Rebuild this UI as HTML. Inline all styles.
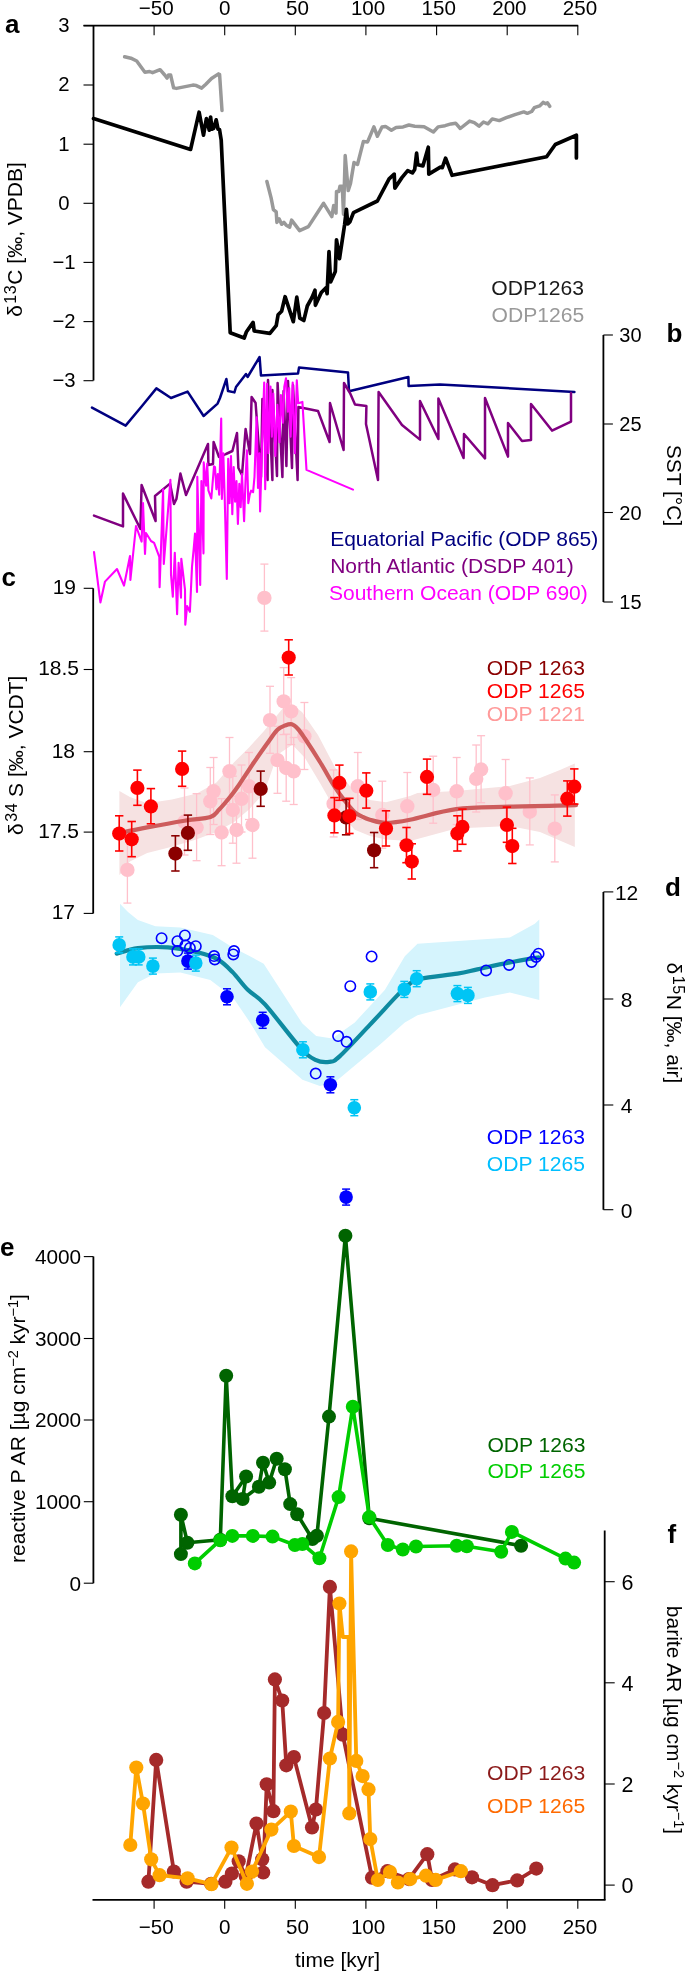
<!DOCTYPE html>
<html><head><meta charset="utf-8"><title>Figure</title>
<style>html,body{margin:0;padding:0;background:#fff;width:685px;height:1972px;overflow:hidden}svg{display:block;will-change:transform}text{font-family:"Liberation Sans",sans-serif}</style>
</head><body>
<svg width="685" height="1972" viewBox="0 0 685 1972" font-family='"Liberation Sans", sans-serif'>
<line x1="83.5" y1="25.6" x2="578.2" y2="25.6" stroke="#000" stroke-width="1.8" stroke-linecap="butt"/>
<line x1="154.1" y1="25.6" x2="154.1" y2="35.2" stroke="#000" stroke-width="1.1" stroke-linecap="butt"/>
<text x="156.3" y="14.8" font-size="20.6" text-anchor="middle" fill="#000" font-weight="normal" >−50</text>
<line x1="224.7" y1="25.6" x2="224.7" y2="35.2" stroke="#000" stroke-width="1.1" stroke-linecap="butt"/>
<text x="224.7" y="14.8" font-size="20.6" text-anchor="middle" fill="#000" font-weight="normal" >0</text>
<line x1="295.3" y1="25.6" x2="295.3" y2="35.2" stroke="#000" stroke-width="1.1" stroke-linecap="butt"/>
<text x="297.5" y="14.8" font-size="20.6" text-anchor="middle" fill="#000" font-weight="normal" >50</text>
<line x1="365.9" y1="25.6" x2="365.9" y2="35.2" stroke="#000" stroke-width="1.1" stroke-linecap="butt"/>
<text x="368.1" y="14.8" font-size="20.6" text-anchor="middle" fill="#000" font-weight="normal" >100</text>
<line x1="436.6" y1="25.6" x2="436.6" y2="35.2" stroke="#000" stroke-width="1.1" stroke-linecap="butt"/>
<text x="438.8" y="14.8" font-size="20.6" text-anchor="middle" fill="#000" font-weight="normal" >150</text>
<line x1="507.2" y1="25.6" x2="507.2" y2="35.2" stroke="#000" stroke-width="1.1" stroke-linecap="butt"/>
<text x="509.4" y="14.8" font-size="20.6" text-anchor="middle" fill="#000" font-weight="normal" >200</text>
<line x1="577.8" y1="25.6" x2="577.8" y2="35.2" stroke="#000" stroke-width="1.1" stroke-linecap="butt"/>
<text x="580" y="14.8" font-size="20.6" text-anchor="middle" fill="#000" font-weight="normal" >250</text>
<line x1="93.5" y1="25.6" x2="93.5" y2="380.5" stroke="#000" stroke-width="1.8" stroke-linecap="butt"/>
<line x1="83.5" y1="25.6" x2="93.5" y2="25.6" stroke="#000" stroke-width="1.1" stroke-linecap="butt"/>
<text x="69.6" y="31.9" font-size="20.3" text-anchor="end" fill="#000" font-weight="normal" >3</text>
<line x1="83.5" y1="85" x2="93.5" y2="85" stroke="#000" stroke-width="1.1" stroke-linecap="butt"/>
<text x="69.6" y="91.3" font-size="20.3" text-anchor="end" fill="#000" font-weight="normal" >2</text>
<line x1="83.5" y1="144.2" x2="93.5" y2="144.2" stroke="#000" stroke-width="1.1" stroke-linecap="butt"/>
<text x="69.6" y="150.5" font-size="20.3" text-anchor="end" fill="#000" font-weight="normal" >1</text>
<line x1="83.5" y1="203.3" x2="93.5" y2="203.3" stroke="#000" stroke-width="1.1" stroke-linecap="butt"/>
<text x="69.6" y="209.6" font-size="20.3" text-anchor="end" fill="#000" font-weight="normal" >0</text>
<line x1="83.5" y1="262.4" x2="93.5" y2="262.4" stroke="#000" stroke-width="1.1" stroke-linecap="butt"/>
<text x="75.6" y="268.7" font-size="20.3" text-anchor="end" fill="#000" font-weight="normal" >−1</text>
<line x1="83.5" y1="321.6" x2="93.5" y2="321.6" stroke="#000" stroke-width="1.1" stroke-linecap="butt"/>
<text x="75.6" y="327.9" font-size="20.3" text-anchor="end" fill="#000" font-weight="normal" >−2</text>
<line x1="83.5" y1="380.7" x2="93.5" y2="380.7" stroke="#000" stroke-width="1.1" stroke-linecap="butt"/>
<text x="75.6" y="387" font-size="20.3" text-anchor="end" fill="#000" font-weight="normal" >−3</text>
<text x="5" y="32.6" font-size="26" text-anchor="start" fill="#000" font-weight="bold" >a</text>
<text transform="translate(22.4,239.5) rotate(-90)" font-size="21" text-anchor="middle">δ<tspan font-size="16" dx="1.5" dy="-6" letter-spacing="0.6">13</tspan><tspan dy="6" letter-spacing="0">C [‰, VPDB]</tspan></text>
<text x="491.3" y="295.4" font-size="21.1" text-anchor="start" fill="#1a1a1a" font-weight="normal" >ODP1263</text>
<text x="491.5" y="321.7" font-size="21.1" text-anchor="start" fill="#999999" font-weight="normal" >ODP1265</text>
<polyline points="124.6,56.8 130.9,58.2 136.7,61 144.9,72.2 149.6,71.5 152.6,72.7 160.1,69.7 164.7,75 167.1,78.1 168.5,75 170.6,75 173.6,87.9 176.4,88.4 192.8,85.1 196.3,85.6 201.7,88.1 205.6,84.4 211.5,78.5 218.5,73.9 219.6,74.6 222,110.5" fill="none" stroke="#999999" stroke-width="3.5" stroke-linejoin="round" stroke-linecap="round" />
<polyline points="266.9,181.5 271.1,197.9 273.4,209.6 276.2,211.9 276.9,222.4 279.2,218.9 281.6,224.3 283.9,222.4 286.2,225.2 289.7,227.1 291.6,220.1 299.6,230.6 308.4,226.6 323.6,203.3 331.8,216.6 333.7,205.6 336,213.1 336.5,191.6 338.8,191.6 340,186.2 342.3,186.2 343.5,214.2 345.2,155.6 348.2,190.6 350.5,183.4 354,162.6 357.5,164.5 363.4,141.4 367.6,141.9 373.9,126.9 377.4,136.3 382,126.9 385.5,126.4 391.4,130.2 396.1,127.4 403.1,126.9 408.9,125 414.7,126.2 424.1,126.7 433.4,132 438.1,126.9 445.1,125.7 451,123.9 455.6,123.2 460.3,128.5 469.6,121.1 474.3,122.7 479,126.2 483.5,122 487.9,123.8 492.3,118.9 499.3,120.6 506.3,117.7 515,114.7 523.8,111.9 527.3,113.3 531.7,111.5 534.3,107.7 539.6,105.9 543.1,102.4 545.7,103.7 547.4,102.8 549.7,106.3" fill="none" stroke="#999999" stroke-width="3.5" stroke-linejoin="round" stroke-linecap="round" />
<polyline points="93.5,118.6 190.6,149.4 199.1,112.2 203.5,135.1 206.4,118.5 209.3,130.2 210.6,117 212,129.2 213.7,128.3 216.2,119.8 218,129.2 219.5,129.5 221.2,140 230.2,332.7 244.2,338 246.5,331.7 253.1,322.4 254.2,331 269.9,333.4 276.2,325.7 278.1,314.7 281.6,311.2 285.1,296.7 293.3,321.7 296.8,297.2 299.8,318.2 303.8,320.5 307.3,306 311.9,297.6 315,290.2 315.4,305.3 321.3,292.5 326,287.8 327.1,293.7 329,251.6 330.6,282 335.3,271.5 336.5,239.9 339.5,258.6 344.6,224.7 346.4,209.3 347.8,224 349.8,222 353.5,212.6 377.4,201 389.1,178.8 394.2,174.1 394.9,188.1 401.9,177.6 407.7,170.6 412.4,172.9 414.7,169.4 416.6,153.1 417.8,164.7 422.9,165.9 428.3,147.2 428.8,174.1 440.4,167.1 442.3,167.6 445.6,158.2 452.1,175.3 546.6,156.7 555.3,144.5 576.4,135.2 576.4,158" fill="none" stroke="#000000" stroke-width="3.7" stroke-linejoin="round" stroke-linecap="round" />
<line x1="603.4" y1="335" x2="603.4" y2="602" stroke="#000" stroke-width="1.8" stroke-linecap="butt"/>
<line x1="603.4" y1="335" x2="612.9" y2="335" stroke="#000" stroke-width="1.1" stroke-linecap="butt"/>
<text x="619.3" y="342" font-size="20" text-anchor="start" fill="#000" font-weight="normal" >30</text>
<line x1="603.4" y1="424" x2="612.9" y2="424" stroke="#000" stroke-width="1.1" stroke-linecap="butt"/>
<text x="619.3" y="431" font-size="20" text-anchor="start" fill="#000" font-weight="normal" >25</text>
<line x1="603.4" y1="512.5" x2="612.9" y2="512.5" stroke="#000" stroke-width="1.1" stroke-linecap="butt"/>
<text x="619.3" y="519.5" font-size="20" text-anchor="start" fill="#000" font-weight="normal" >20</text>
<line x1="603.4" y1="602" x2="612.9" y2="602" stroke="#000" stroke-width="1.1" stroke-linecap="butt"/>
<text x="619.3" y="609" font-size="20" text-anchor="start" fill="#000" font-weight="normal" >15</text>
<text x="666.5" y="342" font-size="26" text-anchor="start" fill="#000" font-weight="bold" >b</text>
<text transform="translate(666.6,485.5) rotate(90)" font-size="21" text-anchor="middle">SST [°C]</text>
<polyline points="92,407.6 125.6,425.6 142,406 156.4,388.4 171,398 187.6,391.6 203.6,416 217.6,403.6 220,398 226.4,379 228,391 234.4,392.4 236,387 246,374 247.6,377 259.6,357 261,375.6 298,373.6 299,367.6 348,372.4 349,391 350,391 408.4,377 408.6,386 440,384.6 487,387 574.4,392" fill="none" stroke="#000080" stroke-width="2.5" stroke-linejoin="round" stroke-linecap="round" />
<polyline points="94,515.6 123,526.4 123,493.6 140.4,529 141.6,485 155.6,521 155,496 170,483.6 174,504 176.4,499 180.4,473.6 186,495 208,444 208.4,465 213,464 213.6,442 219,457 220,457 226,454 232.4,451 237,433 238.4,468 242,475 245.6,429 250,454 251.6,397 255.6,403 261,477 262.4,399 267.6,480 268,380 272.4,480 272.4,390 277,476 277.6,383 282.4,477 283.6,391 286.4,466 288,381 292,468 293,385 297.6,480 298.4,407 318,411 329.6,442 330,403 343.6,450 344,383 350,393 355,404.4 366.4,406 366,424 378,480 378.6,392 402,425 420,439.6 420,401 438.4,439 438.4,398.6 463.6,458 464,434 485,458.4 485,398 508,456.6 508,423 522,441 531,440 531,404 552,430.6 571,421.6 571,393" fill="none" stroke="#800080" stroke-width="2.5" stroke-linejoin="round" stroke-linecap="round" />
<polyline points="94,552 100.4,602.4 105,581.6 117,569 124,585.6 130,556 130.4,580 136,526 141.6,541.6 143,503 145,554 146,533 151,541 154.1,542.9 159.3,556.9 159.6,587.3 163.1,489.2 163.8,563.9 170.4,479.9 171,574.5 172.8,596.6 174.8,552.8 177.1,614.2 178.6,562.8 181,597.8 181.3,558.7 185,589.6 185.3,624.7 187.1,606 189.9,611.8 192,566.9 193.8,547.6 195,533.6 197,592 197.3,476.9 200.2,585 201.4,481 203.5,553.4 203.7,462.3 206.1,485.7 207.2,463.5 208.4,490.4 211.3,498.5 214,466.4 215,467.1 216.4,489.3 217.8,474 219.2,494.8 221.2,418.5 221.9,499 223.3,453.2 224.7,497.6 226.8,579 228.2,458.8 229.6,503.1 231,456 232.3,514.2 233.7,467.1 235.1,501.8 236.5,481 237.9,524 239.3,483.7 240.7,507.3 242,474 244.1,521.2 245.5,481 246.9,450.4 248.3,503.1 249.7,494.8 251.1,490.7 253.1,492.1 254.5,476.8 256.6,417.2 258,487.9 259.4,453.2 260.1,511.5 262.2,439.3 264.2,382.5 265.2,489.3 267,383.9 268.4,453.2 270.5,386.6 271.9,436.6 273.3,393.6 275.3,456 277.4,404.7 279.5,442.1 280.9,395 283,422.7 284.3,386.6 286,378.3 287.8,411.6 289.2,388 290.6,436.6 292.7,382.5 294.8,453.2 296.8,380.4 298.2,403.3 302.4,401.9 306.5,469.9 353,489.6" fill="none" stroke="#ff00ff" stroke-width="2.1" stroke-linejoin="round" stroke-linecap="round" />
<text x="330.2" y="546" font-size="21" text-anchor="start" fill="#000080" font-weight="normal" >Equatorial Pacific (ODP 865)</text>
<text x="330.2" y="573.3" font-size="21" text-anchor="start" fill="#800080" font-weight="normal" >North Atlantic (DSDP 401)</text>
<text x="329" y="600.2" font-size="21" text-anchor="start" fill="#ff00ff" font-weight="normal" >Southern Ocean (ODP 690)</text>
<line x1="93.2" y1="588.3" x2="93.2" y2="913.4" stroke="#000" stroke-width="1.8" stroke-linecap="butt"/>
<line x1="83.7" y1="588.3" x2="93.2" y2="588.3" stroke="#000" stroke-width="1.1" stroke-linecap="butt"/>
<text x="76" y="594.1" font-size="21" text-anchor="end" fill="#000" font-weight="normal" >19</text>
<line x1="83.7" y1="669.5" x2="93.2" y2="669.5" stroke="#000" stroke-width="1.1" stroke-linecap="butt"/>
<text x="79" y="675.3" font-size="21" text-anchor="end" fill="#000" font-weight="normal" >18.5</text>
<line x1="83.7" y1="751.7" x2="93.2" y2="751.7" stroke="#000" stroke-width="1.1" stroke-linecap="butt"/>
<text x="75" y="757.5" font-size="21" text-anchor="end" fill="#000" font-weight="normal" >18</text>
<line x1="83.7" y1="832.1" x2="93.2" y2="832.1" stroke="#000" stroke-width="1.1" stroke-linecap="butt"/>
<text x="79" y="837.9" font-size="21" text-anchor="end" fill="#000" font-weight="normal" >17.5</text>
<line x1="83.7" y1="913.4" x2="93.2" y2="913.4" stroke="#000" stroke-width="1.1" stroke-linecap="butt"/>
<text x="75" y="919.2" font-size="21" text-anchor="end" fill="#000" font-weight="normal" >17</text>
<text x="1.5" y="586" font-size="26" text-anchor="start" fill="#000" font-weight="bold" >c</text>
<text transform="translate(22.6,755.3) rotate(-90)" font-size="21" text-anchor="middle">δ<tspan font-size="16" dx="1.5" dy="-6" letter-spacing="0.6">34</tspan><tspan dy="6" letter-spacing="0"> S [‰, VCDT]</tspan></text>
<polygon points="119.4,790.9 129.9,797.1 147.2,803.3 172,799.6 196.9,793.5 216.7,782.2 234.1,762.3 249,747.4 264,731 283.7,707.3 292.4,704.8 302,712 318,735 334.9,767.2 354.8,792.2 370,800 386,802.2 410,796 417.5,793 456.2,791 509.8,786 540,778 560,770 574.8,763.5 574.8,847.1 540,832 509.8,826 456.2,828.4 410,840.9 386,839.6 370,836 354.8,829.7 332.4,804.7 320,783 305,758 292.4,744.8 277.5,754.8 264,793 249,809.5 234.1,821.9 216.7,831.8 196.9,839.3 172,846.7 147.2,852.9 129.9,861.6 119.4,875.3" fill="#f6e2e2"/>
<line x1="127.4" y1="836.1" x2="127.4" y2="903.1" stroke="#ffc0cb" stroke-width="1.3" stroke-linecap="butt"/>
<line x1="123.4" y1="836.1" x2="131.4" y2="836.1" stroke="#ffc0cb" stroke-width="1.3" stroke-linecap="butt"/>
<line x1="123.4" y1="903.1" x2="131.4" y2="903.1" stroke="#ffc0cb" stroke-width="1.3" stroke-linecap="butt"/>
<line x1="184.5" y1="788" x2="184.5" y2="855" stroke="#ffc0cb" stroke-width="1.3" stroke-linecap="butt"/>
<line x1="180.5" y1="788" x2="188.5" y2="788" stroke="#ffc0cb" stroke-width="1.3" stroke-linecap="butt"/>
<line x1="180.5" y1="855" x2="188.5" y2="855" stroke="#ffc0cb" stroke-width="1.3" stroke-linecap="butt"/>
<line x1="196.6" y1="793.7" x2="196.6" y2="860.7" stroke="#ffc0cb" stroke-width="1.3" stroke-linecap="butt"/>
<line x1="192.6" y1="793.7" x2="200.6" y2="793.7" stroke="#ffc0cb" stroke-width="1.3" stroke-linecap="butt"/>
<line x1="192.6" y1="860.7" x2="200.6" y2="860.7" stroke="#ffc0cb" stroke-width="1.3" stroke-linecap="butt"/>
<line x1="210.3" y1="767.5" x2="210.3" y2="834.5" stroke="#ffc0cb" stroke-width="1.3" stroke-linecap="butt"/>
<line x1="206.3" y1="767.5" x2="214.3" y2="767.5" stroke="#ffc0cb" stroke-width="1.3" stroke-linecap="butt"/>
<line x1="206.3" y1="834.5" x2="214.3" y2="834.5" stroke="#ffc0cb" stroke-width="1.3" stroke-linecap="butt"/>
<line x1="213.6" y1="757.5" x2="213.6" y2="824.5" stroke="#ffc0cb" stroke-width="1.3" stroke-linecap="butt"/>
<line x1="209.6" y1="757.5" x2="217.6" y2="757.5" stroke="#ffc0cb" stroke-width="1.3" stroke-linecap="butt"/>
<line x1="209.6" y1="824.5" x2="217.6" y2="824.5" stroke="#ffc0cb" stroke-width="1.3" stroke-linecap="butt"/>
<line x1="221.6" y1="798.7" x2="221.6" y2="865.7" stroke="#ffc0cb" stroke-width="1.3" stroke-linecap="butt"/>
<line x1="217.6" y1="798.7" x2="225.6" y2="798.7" stroke="#ffc0cb" stroke-width="1.3" stroke-linecap="butt"/>
<line x1="217.6" y1="865.7" x2="225.6" y2="865.7" stroke="#ffc0cb" stroke-width="1.3" stroke-linecap="butt"/>
<line x1="229.5" y1="737.5" x2="229.5" y2="804.5" stroke="#ffc0cb" stroke-width="1.3" stroke-linecap="butt"/>
<line x1="225.5" y1="737.5" x2="233.5" y2="737.5" stroke="#ffc0cb" stroke-width="1.3" stroke-linecap="butt"/>
<line x1="225.5" y1="804.5" x2="233.5" y2="804.5" stroke="#ffc0cb" stroke-width="1.3" stroke-linecap="butt"/>
<line x1="232.8" y1="776.2" x2="232.8" y2="843.2" stroke="#ffc0cb" stroke-width="1.3" stroke-linecap="butt"/>
<line x1="228.8" y1="776.2" x2="236.8" y2="776.2" stroke="#ffc0cb" stroke-width="1.3" stroke-linecap="butt"/>
<line x1="228.8" y1="843.2" x2="236.8" y2="843.2" stroke="#ffc0cb" stroke-width="1.3" stroke-linecap="butt"/>
<line x1="236.5" y1="796.2" x2="236.5" y2="863.2" stroke="#ffc0cb" stroke-width="1.3" stroke-linecap="butt"/>
<line x1="232.5" y1="796.2" x2="240.5" y2="796.2" stroke="#ffc0cb" stroke-width="1.3" stroke-linecap="butt"/>
<line x1="232.5" y1="863.2" x2="240.5" y2="863.2" stroke="#ffc0cb" stroke-width="1.3" stroke-linecap="butt"/>
<line x1="241.5" y1="765" x2="241.5" y2="832" stroke="#ffc0cb" stroke-width="1.3" stroke-linecap="butt"/>
<line x1="237.5" y1="765" x2="245.5" y2="765" stroke="#ffc0cb" stroke-width="1.3" stroke-linecap="butt"/>
<line x1="237.5" y1="832" x2="245.5" y2="832" stroke="#ffc0cb" stroke-width="1.3" stroke-linecap="butt"/>
<line x1="249" y1="752.5" x2="249" y2="819.5" stroke="#ffc0cb" stroke-width="1.3" stroke-linecap="butt"/>
<line x1="245" y1="752.5" x2="253" y2="752.5" stroke="#ffc0cb" stroke-width="1.3" stroke-linecap="butt"/>
<line x1="245" y1="819.5" x2="253" y2="819.5" stroke="#ffc0cb" stroke-width="1.3" stroke-linecap="butt"/>
<line x1="252.5" y1="791.2" x2="252.5" y2="858.2" stroke="#ffc0cb" stroke-width="1.3" stroke-linecap="butt"/>
<line x1="248.5" y1="791.2" x2="256.5" y2="791.2" stroke="#ffc0cb" stroke-width="1.3" stroke-linecap="butt"/>
<line x1="248.5" y1="858.2" x2="256.5" y2="858.2" stroke="#ffc0cb" stroke-width="1.3" stroke-linecap="butt"/>
<line x1="264.4" y1="564.1" x2="264.4" y2="631.1" stroke="#ffc0cb" stroke-width="1.3" stroke-linecap="butt"/>
<line x1="260.4" y1="564.1" x2="268.4" y2="564.1" stroke="#ffc0cb" stroke-width="1.3" stroke-linecap="butt"/>
<line x1="260.4" y1="631.1" x2="268.4" y2="631.1" stroke="#ffc0cb" stroke-width="1.3" stroke-linecap="butt"/>
<line x1="270" y1="686.3" x2="270" y2="753.3" stroke="#ffc0cb" stroke-width="1.3" stroke-linecap="butt"/>
<line x1="266" y1="686.3" x2="274" y2="686.3" stroke="#ffc0cb" stroke-width="1.3" stroke-linecap="butt"/>
<line x1="266" y1="753.3" x2="274" y2="753.3" stroke="#ffc0cb" stroke-width="1.3" stroke-linecap="butt"/>
<line x1="283.7" y1="667.6" x2="283.7" y2="734.6" stroke="#ffc0cb" stroke-width="1.3" stroke-linecap="butt"/>
<line x1="279.7" y1="667.6" x2="287.7" y2="667.6" stroke="#ffc0cb" stroke-width="1.3" stroke-linecap="butt"/>
<line x1="279.7" y1="734.6" x2="287.7" y2="734.6" stroke="#ffc0cb" stroke-width="1.3" stroke-linecap="butt"/>
<line x1="291.2" y1="677.6" x2="291.2" y2="744.6" stroke="#ffc0cb" stroke-width="1.3" stroke-linecap="butt"/>
<line x1="287.2" y1="677.6" x2="295.2" y2="677.6" stroke="#ffc0cb" stroke-width="1.3" stroke-linecap="butt"/>
<line x1="287.2" y1="744.6" x2="295.2" y2="744.6" stroke="#ffc0cb" stroke-width="1.3" stroke-linecap="butt"/>
<line x1="304.4" y1="702.5" x2="304.4" y2="769.5" stroke="#ffc0cb" stroke-width="1.3" stroke-linecap="butt"/>
<line x1="300.4" y1="702.5" x2="308.4" y2="702.5" stroke="#ffc0cb" stroke-width="1.3" stroke-linecap="butt"/>
<line x1="300.4" y1="769.5" x2="308.4" y2="769.5" stroke="#ffc0cb" stroke-width="1.3" stroke-linecap="butt"/>
<line x1="277.5" y1="726.3" x2="277.5" y2="793.3" stroke="#ffc0cb" stroke-width="1.3" stroke-linecap="butt"/>
<line x1="273.5" y1="726.3" x2="281.5" y2="726.3" stroke="#ffc0cb" stroke-width="1.3" stroke-linecap="butt"/>
<line x1="273.5" y1="793.3" x2="281.5" y2="793.3" stroke="#ffc0cb" stroke-width="1.3" stroke-linecap="butt"/>
<line x1="286.2" y1="734.2" x2="286.2" y2="801.2" stroke="#ffc0cb" stroke-width="1.3" stroke-linecap="butt"/>
<line x1="282.2" y1="734.2" x2="290.2" y2="734.2" stroke="#ffc0cb" stroke-width="1.3" stroke-linecap="butt"/>
<line x1="282.2" y1="801.2" x2="290.2" y2="801.2" stroke="#ffc0cb" stroke-width="1.3" stroke-linecap="butt"/>
<line x1="293.7" y1="737.5" x2="293.7" y2="804.5" stroke="#ffc0cb" stroke-width="1.3" stroke-linecap="butt"/>
<line x1="289.7" y1="737.5" x2="297.7" y2="737.5" stroke="#ffc0cb" stroke-width="1.3" stroke-linecap="butt"/>
<line x1="289.7" y1="804.5" x2="297.7" y2="804.5" stroke="#ffc0cb" stroke-width="1.3" stroke-linecap="butt"/>
<line x1="333.6" y1="769.9" x2="333.6" y2="836.9" stroke="#ffc0cb" stroke-width="1.3" stroke-linecap="butt"/>
<line x1="329.6" y1="769.9" x2="337.6" y2="769.9" stroke="#ffc0cb" stroke-width="1.3" stroke-linecap="butt"/>
<line x1="329.6" y1="836.9" x2="337.6" y2="836.9" stroke="#ffc0cb" stroke-width="1.3" stroke-linecap="butt"/>
<line x1="357.8" y1="752.5" x2="357.8" y2="819.5" stroke="#ffc0cb" stroke-width="1.3" stroke-linecap="butt"/>
<line x1="353.8" y1="752.5" x2="361.8" y2="752.5" stroke="#ffc0cb" stroke-width="1.3" stroke-linecap="butt"/>
<line x1="353.8" y1="819.5" x2="361.8" y2="819.5" stroke="#ffc0cb" stroke-width="1.3" stroke-linecap="butt"/>
<line x1="382.3" y1="781.2" x2="382.3" y2="848.2" stroke="#ffc0cb" stroke-width="1.3" stroke-linecap="butt"/>
<line x1="378.3" y1="781.2" x2="386.3" y2="781.2" stroke="#ffc0cb" stroke-width="1.3" stroke-linecap="butt"/>
<line x1="378.3" y1="848.2" x2="386.3" y2="848.2" stroke="#ffc0cb" stroke-width="1.3" stroke-linecap="butt"/>
<line x1="407.3" y1="772.5" x2="407.3" y2="839.5" stroke="#ffc0cb" stroke-width="1.3" stroke-linecap="butt"/>
<line x1="403.3" y1="772.5" x2="411.3" y2="772.5" stroke="#ffc0cb" stroke-width="1.3" stroke-linecap="butt"/>
<line x1="403.3" y1="839.5" x2="411.3" y2="839.5" stroke="#ffc0cb" stroke-width="1.3" stroke-linecap="butt"/>
<line x1="433.2" y1="756.2" x2="433.2" y2="823.2" stroke="#ffc0cb" stroke-width="1.3" stroke-linecap="butt"/>
<line x1="429.2" y1="756.2" x2="437.2" y2="756.2" stroke="#ffc0cb" stroke-width="1.3" stroke-linecap="butt"/>
<line x1="429.2" y1="823.2" x2="437.2" y2="823.2" stroke="#ffc0cb" stroke-width="1.3" stroke-linecap="butt"/>
<line x1="456.7" y1="757.5" x2="456.7" y2="824.5" stroke="#ffc0cb" stroke-width="1.3" stroke-linecap="butt"/>
<line x1="452.7" y1="757.5" x2="460.7" y2="757.5" stroke="#ffc0cb" stroke-width="1.3" stroke-linecap="butt"/>
<line x1="452.7" y1="824.5" x2="460.7" y2="824.5" stroke="#ffc0cb" stroke-width="1.3" stroke-linecap="butt"/>
<line x1="476.2" y1="745" x2="476.2" y2="812" stroke="#ffc0cb" stroke-width="1.3" stroke-linecap="butt"/>
<line x1="472.2" y1="745" x2="480.2" y2="745" stroke="#ffc0cb" stroke-width="1.3" stroke-linecap="butt"/>
<line x1="472.2" y1="812" x2="480.2" y2="812" stroke="#ffc0cb" stroke-width="1.3" stroke-linecap="butt"/>
<line x1="481.1" y1="735.7" x2="481.1" y2="802.7" stroke="#ffc0cb" stroke-width="1.3" stroke-linecap="butt"/>
<line x1="477.1" y1="735.7" x2="485.1" y2="735.7" stroke="#ffc0cb" stroke-width="1.3" stroke-linecap="butt"/>
<line x1="477.1" y1="802.7" x2="485.1" y2="802.7" stroke="#ffc0cb" stroke-width="1.3" stroke-linecap="butt"/>
<line x1="505.6" y1="759.5" x2="505.6" y2="826.5" stroke="#ffc0cb" stroke-width="1.3" stroke-linecap="butt"/>
<line x1="501.6" y1="759.5" x2="509.6" y2="759.5" stroke="#ffc0cb" stroke-width="1.3" stroke-linecap="butt"/>
<line x1="501.6" y1="826.5" x2="509.6" y2="826.5" stroke="#ffc0cb" stroke-width="1.3" stroke-linecap="butt"/>
<line x1="529.8" y1="777.9" x2="529.8" y2="844.9" stroke="#ffc0cb" stroke-width="1.3" stroke-linecap="butt"/>
<line x1="525.8" y1="777.9" x2="533.8" y2="777.9" stroke="#ffc0cb" stroke-width="1.3" stroke-linecap="butt"/>
<line x1="525.8" y1="844.9" x2="533.8" y2="844.9" stroke="#ffc0cb" stroke-width="1.3" stroke-linecap="butt"/>
<line x1="554.8" y1="794.9" x2="554.8" y2="861.9" stroke="#ffc0cb" stroke-width="1.3" stroke-linecap="butt"/>
<line x1="550.8" y1="794.9" x2="558.8" y2="794.9" stroke="#ffc0cb" stroke-width="1.3" stroke-linecap="butt"/>
<line x1="550.8" y1="861.9" x2="558.8" y2="861.9" stroke="#ffc0cb" stroke-width="1.3" stroke-linecap="butt"/>
<circle cx="127.4" cy="869.9" r="7.2" fill="#ffc0cb" stroke="none" stroke-width="0"/>
<circle cx="184.5" cy="821.8" r="7.2" fill="#ffc0cb" stroke="none" stroke-width="0"/>
<circle cx="196.6" cy="827.5" r="7.2" fill="#ffc0cb" stroke="none" stroke-width="0"/>
<circle cx="210.3" cy="801.3" r="7.2" fill="#ffc0cb" stroke="none" stroke-width="0"/>
<circle cx="213.6" cy="791.3" r="7.2" fill="#ffc0cb" stroke="none" stroke-width="0"/>
<circle cx="221.6" cy="832.5" r="7.2" fill="#ffc0cb" stroke="none" stroke-width="0"/>
<circle cx="229.5" cy="771.3" r="7.2" fill="#ffc0cb" stroke="none" stroke-width="0"/>
<circle cx="232.8" cy="810" r="7.2" fill="#ffc0cb" stroke="none" stroke-width="0"/>
<circle cx="236.5" cy="830" r="7.2" fill="#ffc0cb" stroke="none" stroke-width="0"/>
<circle cx="241.5" cy="798.8" r="7.2" fill="#ffc0cb" stroke="none" stroke-width="0"/>
<circle cx="249" cy="786.3" r="7.2" fill="#ffc0cb" stroke="none" stroke-width="0"/>
<circle cx="252.5" cy="825" r="7.2" fill="#ffc0cb" stroke="none" stroke-width="0"/>
<circle cx="264.4" cy="597.9" r="7.2" fill="#ffc0cb" stroke="none" stroke-width="0"/>
<circle cx="270" cy="720.1" r="7.2" fill="#ffc0cb" stroke="none" stroke-width="0"/>
<circle cx="283.7" cy="701.4" r="7.2" fill="#ffc0cb" stroke="none" stroke-width="0"/>
<circle cx="291.2" cy="711.4" r="7.2" fill="#ffc0cb" stroke="none" stroke-width="0"/>
<circle cx="304.4" cy="736.3" r="7.2" fill="#ffc0cb" stroke="none" stroke-width="0"/>
<circle cx="277.5" cy="760.1" r="7.2" fill="#ffc0cb" stroke="none" stroke-width="0"/>
<circle cx="286.2" cy="768" r="7.2" fill="#ffc0cb" stroke="none" stroke-width="0"/>
<circle cx="293.7" cy="771.3" r="7.2" fill="#ffc0cb" stroke="none" stroke-width="0"/>
<circle cx="333.6" cy="803.7" r="7.2" fill="#ffc0cb" stroke="none" stroke-width="0"/>
<circle cx="357.8" cy="786.3" r="7.2" fill="#ffc0cb" stroke="none" stroke-width="0"/>
<circle cx="382.3" cy="815" r="7.2" fill="#ffc0cb" stroke="none" stroke-width="0"/>
<circle cx="407.3" cy="806.3" r="7.2" fill="#ffc0cb" stroke="none" stroke-width="0"/>
<circle cx="433.2" cy="790" r="7.2" fill="#ffc0cb" stroke="none" stroke-width="0"/>
<circle cx="456.7" cy="791.3" r="7.2" fill="#ffc0cb" stroke="none" stroke-width="0"/>
<circle cx="476.2" cy="778.8" r="7.2" fill="#ffc0cb" stroke="none" stroke-width="0"/>
<circle cx="481.1" cy="769.5" r="7.2" fill="#ffc0cb" stroke="none" stroke-width="0"/>
<circle cx="505.6" cy="793.3" r="7.2" fill="#ffc0cb" stroke="none" stroke-width="0"/>
<circle cx="529.8" cy="811.7" r="7.2" fill="#ffc0cb" stroke="none" stroke-width="0"/>
<circle cx="554.8" cy="828.7" r="7.2" fill="#ffc0cb" stroke="none" stroke-width="0"/>
<path d="M119.2,833.2 C123.9,832.2 136.3,829.5 147.2,827.4 C158.1,825.3 173.9,822.4 184.5,820.7 C195.1,819 204.7,818.9 210.5,817 C216.3,815.1 215.9,812.8 219.2,809.5 C222.4,806.2 226.7,801.1 230,797 C233.3,792.9 235.1,790.5 239.1,784.7 C243.1,778.9 249.1,769.5 254,762.3 C258.9,755 264.9,746.6 268.8,741.2 C272.7,735.8 274.8,732.4 277.5,729.8 C280.2,727.2 282.6,726.4 285,725.5 C287.4,724.6 289.7,723.7 291.9,724.3 C294.1,724.9 295.8,726.6 298,729 C300.2,731.4 301.2,733 304.9,738.5 C308.6,744 315,753.9 320,762 C325,770.1 330.7,780.7 334.9,787.2 C339.1,793.7 341.7,796.8 345,801 C348.3,805.2 352,809.6 354.8,812.2 C357.6,814.8 359.5,815.2 362,816.5 C364.5,817.8 365.8,818.6 369.8,819.7 C373.8,820.8 379.3,822.9 386,822.9 C392.7,822.9 398.3,822 410,819.7 C421.7,817.4 439.6,811.4 456.2,809.2 C472.8,807 489.8,807.4 509.8,806.7 C529.8,806 565,805.5 576,805.2" fill="none" stroke="#cd5c5c" stroke-width="4.2" stroke-linecap="round" stroke-linejoin="round"/>
<line x1="175.4" y1="835.8" x2="175.4" y2="871" stroke="#8b0000" stroke-width="1.6" stroke-linecap="butt"/>
<line x1="171.2" y1="835.8" x2="179.6" y2="835.8" stroke="#8b0000" stroke-width="1.6" stroke-linecap="butt"/>
<line x1="171.2" y1="871" x2="179.6" y2="871" stroke="#8b0000" stroke-width="1.6" stroke-linecap="butt"/>
<circle cx="175.4" cy="853.6" r="7.1" fill="#8b0000" stroke="none" stroke-width="0"/>
<line x1="187.9" y1="815.1" x2="187.9" y2="850.3" stroke="#8b0000" stroke-width="1.6" stroke-linecap="butt"/>
<line x1="183.7" y1="815.1" x2="192.1" y2="815.1" stroke="#8b0000" stroke-width="1.6" stroke-linecap="butt"/>
<line x1="183.7" y1="850.3" x2="192.1" y2="850.3" stroke="#8b0000" stroke-width="1.6" stroke-linecap="butt"/>
<circle cx="187.9" cy="832.9" r="7.1" fill="#8b0000" stroke="none" stroke-width="0"/>
<line x1="260.7" y1="771.1" x2="260.7" y2="806.3" stroke="#8b0000" stroke-width="1.6" stroke-linecap="butt"/>
<line x1="256.5" y1="771.1" x2="264.9" y2="771.1" stroke="#8b0000" stroke-width="1.6" stroke-linecap="butt"/>
<line x1="256.5" y1="806.3" x2="264.9" y2="806.3" stroke="#8b0000" stroke-width="1.6" stroke-linecap="butt"/>
<circle cx="260.7" cy="788.9" r="7.1" fill="#8b0000" stroke="none" stroke-width="0"/>
<line x1="346.1" y1="799.6" x2="346.1" y2="834.8" stroke="#8b0000" stroke-width="1.6" stroke-linecap="butt"/>
<line x1="341.9" y1="799.6" x2="350.3" y2="799.6" stroke="#8b0000" stroke-width="1.6" stroke-linecap="butt"/>
<line x1="341.9" y1="834.8" x2="350.3" y2="834.8" stroke="#8b0000" stroke-width="1.6" stroke-linecap="butt"/>
<circle cx="346.1" cy="817.4" r="7.1" fill="#8b0000" stroke="none" stroke-width="0"/>
<line x1="374.1" y1="832.5" x2="374.1" y2="867.7" stroke="#8b0000" stroke-width="1.6" stroke-linecap="butt"/>
<line x1="369.9" y1="832.5" x2="378.3" y2="832.5" stroke="#8b0000" stroke-width="1.6" stroke-linecap="butt"/>
<line x1="369.9" y1="867.7" x2="378.3" y2="867.7" stroke="#8b0000" stroke-width="1.6" stroke-linecap="butt"/>
<circle cx="374.1" cy="850.3" r="7.1" fill="#8b0000" stroke="none" stroke-width="0"/>
<line x1="119.2" y1="815.8" x2="119.2" y2="851" stroke="#ff0000" stroke-width="1.6" stroke-linecap="butt"/>
<line x1="115" y1="815.8" x2="123.4" y2="815.8" stroke="#ff0000" stroke-width="1.6" stroke-linecap="butt"/>
<line x1="115" y1="851" x2="123.4" y2="851" stroke="#ff0000" stroke-width="1.6" stroke-linecap="butt"/>
<circle cx="119.2" cy="833.6" r="7.1" fill="#ff0000" stroke="none" stroke-width="0"/>
<line x1="131.7" y1="821.5" x2="131.7" y2="856.7" stroke="#ff0000" stroke-width="1.6" stroke-linecap="butt"/>
<line x1="127.5" y1="821.5" x2="135.9" y2="821.5" stroke="#ff0000" stroke-width="1.6" stroke-linecap="butt"/>
<line x1="127.5" y1="856.7" x2="135.9" y2="856.7" stroke="#ff0000" stroke-width="1.6" stroke-linecap="butt"/>
<circle cx="131.7" cy="839.3" r="7.1" fill="#ff0000" stroke="none" stroke-width="0"/>
<line x1="137.4" y1="770.1" x2="137.4" y2="805.3" stroke="#ff0000" stroke-width="1.6" stroke-linecap="butt"/>
<line x1="133.2" y1="770.1" x2="141.6" y2="770.1" stroke="#ff0000" stroke-width="1.6" stroke-linecap="butt"/>
<line x1="133.2" y1="805.3" x2="141.6" y2="805.3" stroke="#ff0000" stroke-width="1.6" stroke-linecap="butt"/>
<circle cx="137.4" cy="787.9" r="7.1" fill="#ff0000" stroke="none" stroke-width="0"/>
<line x1="150.9" y1="788.6" x2="150.9" y2="823.8" stroke="#ff0000" stroke-width="1.6" stroke-linecap="butt"/>
<line x1="146.7" y1="788.6" x2="155.1" y2="788.6" stroke="#ff0000" stroke-width="1.6" stroke-linecap="butt"/>
<line x1="146.7" y1="823.8" x2="155.1" y2="823.8" stroke="#ff0000" stroke-width="1.6" stroke-linecap="butt"/>
<circle cx="150.9" cy="806.4" r="7.1" fill="#ff0000" stroke="none" stroke-width="0"/>
<line x1="182.1" y1="751.1" x2="182.1" y2="786.3" stroke="#ff0000" stroke-width="1.6" stroke-linecap="butt"/>
<line x1="177.9" y1="751.1" x2="186.3" y2="751.1" stroke="#ff0000" stroke-width="1.6" stroke-linecap="butt"/>
<line x1="177.9" y1="786.3" x2="186.3" y2="786.3" stroke="#ff0000" stroke-width="1.6" stroke-linecap="butt"/>
<circle cx="182.1" cy="768.9" r="7.1" fill="#ff0000" stroke="none" stroke-width="0"/>
<line x1="288.7" y1="639.8" x2="288.7" y2="675" stroke="#ff0000" stroke-width="1.6" stroke-linecap="butt"/>
<line x1="284.5" y1="639.8" x2="292.9" y2="639.8" stroke="#ff0000" stroke-width="1.6" stroke-linecap="butt"/>
<line x1="284.5" y1="675" x2="292.9" y2="675" stroke="#ff0000" stroke-width="1.6" stroke-linecap="butt"/>
<circle cx="288.7" cy="657.6" r="7.1" fill="#ff0000" stroke="none" stroke-width="0"/>
<line x1="339.4" y1="765.1" x2="339.4" y2="800.3" stroke="#ff0000" stroke-width="1.6" stroke-linecap="butt"/>
<line x1="335.2" y1="765.1" x2="343.6" y2="765.1" stroke="#ff0000" stroke-width="1.6" stroke-linecap="butt"/>
<line x1="335.2" y1="800.3" x2="343.6" y2="800.3" stroke="#ff0000" stroke-width="1.6" stroke-linecap="butt"/>
<circle cx="339.4" cy="782.9" r="7.1" fill="#ff0000" stroke="none" stroke-width="0"/>
<line x1="334.4" y1="797.6" x2="334.4" y2="832.8" stroke="#ff0000" stroke-width="1.6" stroke-linecap="butt"/>
<line x1="330.2" y1="797.6" x2="338.6" y2="797.6" stroke="#ff0000" stroke-width="1.6" stroke-linecap="butt"/>
<line x1="330.2" y1="832.8" x2="338.6" y2="832.8" stroke="#ff0000" stroke-width="1.6" stroke-linecap="butt"/>
<circle cx="334.4" cy="815.4" r="7.1" fill="#ff0000" stroke="none" stroke-width="0"/>
<line x1="349.4" y1="798.3" x2="349.4" y2="833.5" stroke="#ff0000" stroke-width="1.6" stroke-linecap="butt"/>
<line x1="345.2" y1="798.3" x2="353.6" y2="798.3" stroke="#ff0000" stroke-width="1.6" stroke-linecap="butt"/>
<line x1="345.2" y1="833.5" x2="353.6" y2="833.5" stroke="#ff0000" stroke-width="1.6" stroke-linecap="butt"/>
<circle cx="349.4" cy="816.1" r="7.1" fill="#ff0000" stroke="none" stroke-width="0"/>
<line x1="366.3" y1="772.9" x2="366.3" y2="808.1" stroke="#ff0000" stroke-width="1.6" stroke-linecap="butt"/>
<line x1="362.1" y1="772.9" x2="370.5" y2="772.9" stroke="#ff0000" stroke-width="1.6" stroke-linecap="butt"/>
<line x1="362.1" y1="808.1" x2="370.5" y2="808.1" stroke="#ff0000" stroke-width="1.6" stroke-linecap="butt"/>
<circle cx="366.3" cy="790.7" r="7.1" fill="#ff0000" stroke="none" stroke-width="0"/>
<line x1="386" y1="810.8" x2="386" y2="846" stroke="#ff0000" stroke-width="1.6" stroke-linecap="butt"/>
<line x1="381.8" y1="810.8" x2="390.2" y2="810.8" stroke="#ff0000" stroke-width="1.6" stroke-linecap="butt"/>
<line x1="381.8" y1="846" x2="390.2" y2="846" stroke="#ff0000" stroke-width="1.6" stroke-linecap="butt"/>
<circle cx="386" cy="828.6" r="7.1" fill="#ff0000" stroke="none" stroke-width="0"/>
<line x1="406.5" y1="827.5" x2="406.5" y2="862.7" stroke="#ff0000" stroke-width="1.6" stroke-linecap="butt"/>
<line x1="402.3" y1="827.5" x2="410.7" y2="827.5" stroke="#ff0000" stroke-width="1.6" stroke-linecap="butt"/>
<line x1="402.3" y1="862.7" x2="410.7" y2="862.7" stroke="#ff0000" stroke-width="1.6" stroke-linecap="butt"/>
<circle cx="406.5" cy="845.3" r="7.1" fill="#ff0000" stroke="none" stroke-width="0"/>
<line x1="411.8" y1="843.8" x2="411.8" y2="879" stroke="#ff0000" stroke-width="1.6" stroke-linecap="butt"/>
<line x1="407.6" y1="843.8" x2="416" y2="843.8" stroke="#ff0000" stroke-width="1.6" stroke-linecap="butt"/>
<line x1="407.6" y1="879" x2="416" y2="879" stroke="#ff0000" stroke-width="1.6" stroke-linecap="butt"/>
<circle cx="411.8" cy="861.6" r="7.1" fill="#ff0000" stroke="none" stroke-width="0"/>
<line x1="427" y1="759.1" x2="427" y2="794.3" stroke="#ff0000" stroke-width="1.6" stroke-linecap="butt"/>
<line x1="422.8" y1="759.1" x2="431.2" y2="759.1" stroke="#ff0000" stroke-width="1.6" stroke-linecap="butt"/>
<line x1="422.8" y1="794.3" x2="431.2" y2="794.3" stroke="#ff0000" stroke-width="1.6" stroke-linecap="butt"/>
<circle cx="427" cy="776.9" r="7.1" fill="#ff0000" stroke="none" stroke-width="0"/>
<line x1="457.4" y1="815.8" x2="457.4" y2="851" stroke="#ff0000" stroke-width="1.6" stroke-linecap="butt"/>
<line x1="453.2" y1="815.8" x2="461.6" y2="815.8" stroke="#ff0000" stroke-width="1.6" stroke-linecap="butt"/>
<line x1="453.2" y1="851" x2="461.6" y2="851" stroke="#ff0000" stroke-width="1.6" stroke-linecap="butt"/>
<circle cx="457.4" cy="833.6" r="7.1" fill="#ff0000" stroke="none" stroke-width="0"/>
<line x1="462.4" y1="809.1" x2="462.4" y2="844.3" stroke="#ff0000" stroke-width="1.6" stroke-linecap="butt"/>
<line x1="458.2" y1="809.1" x2="466.6" y2="809.1" stroke="#ff0000" stroke-width="1.6" stroke-linecap="butt"/>
<line x1="458.2" y1="844.3" x2="466.6" y2="844.3" stroke="#ff0000" stroke-width="1.6" stroke-linecap="butt"/>
<circle cx="462.4" cy="826.9" r="7.1" fill="#ff0000" stroke="none" stroke-width="0"/>
<line x1="506.9" y1="807.1" x2="506.9" y2="842.3" stroke="#ff0000" stroke-width="1.6" stroke-linecap="butt"/>
<line x1="502.7" y1="807.1" x2="511.1" y2="807.1" stroke="#ff0000" stroke-width="1.6" stroke-linecap="butt"/>
<line x1="502.7" y1="842.3" x2="511.1" y2="842.3" stroke="#ff0000" stroke-width="1.6" stroke-linecap="butt"/>
<circle cx="506.9" cy="824.9" r="7.1" fill="#ff0000" stroke="none" stroke-width="0"/>
<line x1="512.3" y1="828.3" x2="512.3" y2="863.5" stroke="#ff0000" stroke-width="1.6" stroke-linecap="butt"/>
<line x1="508.1" y1="828.3" x2="516.5" y2="828.3" stroke="#ff0000" stroke-width="1.6" stroke-linecap="butt"/>
<line x1="508.1" y1="863.5" x2="516.5" y2="863.5" stroke="#ff0000" stroke-width="1.6" stroke-linecap="butt"/>
<circle cx="512.3" cy="846.1" r="7.1" fill="#ff0000" stroke="none" stroke-width="0"/>
<line x1="567.3" y1="780.9" x2="567.3" y2="816.1" stroke="#ff0000" stroke-width="1.6" stroke-linecap="butt"/>
<line x1="563.1" y1="780.9" x2="571.5" y2="780.9" stroke="#ff0000" stroke-width="1.6" stroke-linecap="butt"/>
<line x1="563.1" y1="816.1" x2="571.5" y2="816.1" stroke="#ff0000" stroke-width="1.6" stroke-linecap="butt"/>
<circle cx="567.3" cy="798.7" r="7.1" fill="#ff0000" stroke="none" stroke-width="0"/>
<line x1="574.3" y1="768.9" x2="574.3" y2="804.1" stroke="#ff0000" stroke-width="1.6" stroke-linecap="butt"/>
<line x1="570.1" y1="768.9" x2="578.5" y2="768.9" stroke="#ff0000" stroke-width="1.6" stroke-linecap="butt"/>
<line x1="570.1" y1="804.1" x2="578.5" y2="804.1" stroke="#ff0000" stroke-width="1.6" stroke-linecap="butt"/>
<circle cx="574.3" cy="786.7" r="7.1" fill="#ff0000" stroke="none" stroke-width="0"/>
<text x="486.8" y="674.7" font-size="21.1" text-anchor="start" fill="#8b0000" font-weight="normal" >ODP 1263</text>
<text x="486.8" y="697.8" font-size="21.1" text-anchor="start" fill="#ff0000" font-weight="normal" >ODP 1265</text>
<text x="486.8" y="721.1" font-size="21.1" text-anchor="start" fill="#ff9a9a" font-weight="normal" >ODP 1221</text>
<line x1="603.4" y1="891.9" x2="603.4" y2="1209.7" stroke="#000" stroke-width="1.8" stroke-linecap="butt"/>
<line x1="603.4" y1="891.9" x2="613.3" y2="891.9" stroke="#000" stroke-width="1.1" stroke-linecap="butt"/>
<text x="626.6" y="900.1" font-size="21" text-anchor="middle" fill="#000" font-weight="normal" >12</text>
<line x1="603.4" y1="999" x2="613.3" y2="999" stroke="#000" stroke-width="1.1" stroke-linecap="butt"/>
<text x="626.6" y="1007.2" font-size="21" text-anchor="middle" fill="#000" font-weight="normal" >8</text>
<line x1="603.4" y1="1105" x2="613.3" y2="1105" stroke="#000" stroke-width="1.1" stroke-linecap="butt"/>
<text x="626.6" y="1113.2" font-size="21" text-anchor="middle" fill="#000" font-weight="normal" >4</text>
<line x1="603.4" y1="1209.7" x2="613.3" y2="1209.7" stroke="#000" stroke-width="1.1" stroke-linecap="butt"/>
<text x="626.6" y="1217.9" font-size="21" text-anchor="middle" fill="#000" font-weight="normal" >0</text>
<text x="665" y="896" font-size="26" text-anchor="start" fill="#000" font-weight="bold" >d</text>
<text transform="translate(666.8,1023) rotate(90)" font-size="21" text-anchor="middle">δ<tspan font-size="16" dx="1.5" dy="-6" letter-spacing="0.6">15</tspan><tspan dy="6" letter-spacing="0">N [‰, air]</tspan></text>
<polygon points="120,903.7 128,912 137.9,919.9 155.4,926.2 180.4,927.4 212.8,934.9 232.8,947.4 250,956.2 263.7,963.7 302.4,1023.6 316.2,1036.1 332.4,1038.6 354.8,1022.4 384.8,989.9 404.8,956.2 417.5,943.7 509.9,937.4 534.8,923.7 539.3,919.5 539.3,999.9 509.9,992.4 484.9,997.4 417.5,1015.3 404.8,1022.4 379.8,1044.8 349.8,1069.8 334.9,1082.3 319.9,1086 302.4,1079.8 265,1047.3 250,1022.4 232.8,997.3 210.3,979.9 180.4,972.4 155.4,973.6 137.9,982.3 120,1007.3" fill="#d5f4fd"/>
<path d="M116.7,953.6 C120.2,952.7 129.4,949.1 137.9,948.1 C146.4,947.1 157.9,946.7 167.9,947.4 C177.9,948.1 189.5,950.4 197.8,952.4 C206.1,954.4 212,956.1 217.8,959.4 C223.6,962.7 227.8,967.3 232.8,972.4 C237.8,977.5 242.4,984.5 247.8,989.8 C253.2,995.1 256.3,994.8 265,1004.4 C273.7,1014 291.5,1038.1 299.9,1047.3 C308.3,1056.5 310.5,1057.4 315.4,1059.8 C320.3,1062.2 325.3,1062.4 329.4,1061.8 C333.5,1061.2 333.2,1062.2 339.9,1056.1 C346.6,1049.9 360.2,1035 369.8,1024.9 C379.4,1014.8 390.6,1002.3 397.3,995.4 C404,988.5 405.9,986.5 409.8,983.7 C413.8,980.9 413.1,980.3 421,978.6 C428.9,976.9 448,975.1 457.4,973.6 C466.8,972.1 468.6,971.3 477.4,969.4 C486.1,967.5 499.7,964.4 509.9,962.4 C520.1,960.4 533.8,958.2 538.6,957.4" fill="none" stroke="#0e8aa0" stroke-width="4.2" stroke-linecap="round" stroke-linejoin="round"/>
<line x1="187.9" y1="953.1" x2="187.9" y2="969.1" stroke="#0000ff" stroke-width="1.5" stroke-linecap="butt"/>
<line x1="183.9" y1="953.1" x2="191.9" y2="953.1" stroke="#0000ff" stroke-width="1.5" stroke-linecap="butt"/>
<line x1="183.9" y1="969.1" x2="191.9" y2="969.1" stroke="#0000ff" stroke-width="1.5" stroke-linecap="butt"/>
<circle cx="187.9" cy="961.1" r="6.8" fill="#0000ff" stroke="none" stroke-width="0"/>
<line x1="227" y1="988.8" x2="227" y2="1004.8" stroke="#0000ff" stroke-width="1.5" stroke-linecap="butt"/>
<line x1="223" y1="988.8" x2="231" y2="988.8" stroke="#0000ff" stroke-width="1.5" stroke-linecap="butt"/>
<line x1="223" y1="1004.8" x2="231" y2="1004.8" stroke="#0000ff" stroke-width="1.5" stroke-linecap="butt"/>
<circle cx="227" cy="996.8" r="6.8" fill="#0000ff" stroke="none" stroke-width="0"/>
<line x1="262.7" y1="1012.3" x2="262.7" y2="1028.3" stroke="#0000ff" stroke-width="1.5" stroke-linecap="butt"/>
<line x1="258.7" y1="1012.3" x2="266.7" y2="1012.3" stroke="#0000ff" stroke-width="1.5" stroke-linecap="butt"/>
<line x1="258.7" y1="1028.3" x2="266.7" y2="1028.3" stroke="#0000ff" stroke-width="1.5" stroke-linecap="butt"/>
<circle cx="262.7" cy="1020.3" r="6.8" fill="#0000ff" stroke="none" stroke-width="0"/>
<line x1="330.4" y1="1076.8" x2="330.4" y2="1092.8" stroke="#0000ff" stroke-width="1.5" stroke-linecap="butt"/>
<line x1="326.4" y1="1076.8" x2="334.4" y2="1076.8" stroke="#0000ff" stroke-width="1.5" stroke-linecap="butt"/>
<line x1="326.4" y1="1092.8" x2="334.4" y2="1092.8" stroke="#0000ff" stroke-width="1.5" stroke-linecap="butt"/>
<circle cx="330.4" cy="1084.8" r="6.8" fill="#0000ff" stroke="none" stroke-width="0"/>
<line x1="346.1" y1="1189.1" x2="346.1" y2="1205.1" stroke="#0000ff" stroke-width="1.5" stroke-linecap="butt"/>
<line x1="342.1" y1="1189.1" x2="350.1" y2="1189.1" stroke="#0000ff" stroke-width="1.5" stroke-linecap="butt"/>
<line x1="342.1" y1="1205.1" x2="350.1" y2="1205.1" stroke="#0000ff" stroke-width="1.5" stroke-linecap="butt"/>
<circle cx="346.1" cy="1197.1" r="6.8" fill="#0000ff" stroke="none" stroke-width="0"/>
<line x1="119.2" y1="936.9" x2="119.2" y2="952.9" stroke="#00c5f5" stroke-width="1.5" stroke-linecap="butt"/>
<line x1="115.2" y1="936.9" x2="123.2" y2="936.9" stroke="#00c5f5" stroke-width="1.5" stroke-linecap="butt"/>
<line x1="115.2" y1="952.9" x2="123.2" y2="952.9" stroke="#00c5f5" stroke-width="1.5" stroke-linecap="butt"/>
<circle cx="119.2" cy="944.9" r="6.8" fill="#00c5f5" stroke="none" stroke-width="0"/>
<line x1="133" y1="948.9" x2="133" y2="964.9" stroke="#00c5f5" stroke-width="1.5" stroke-linecap="butt"/>
<line x1="129" y1="948.9" x2="137" y2="948.9" stroke="#00c5f5" stroke-width="1.5" stroke-linecap="butt"/>
<line x1="129" y1="964.9" x2="137" y2="964.9" stroke="#00c5f5" stroke-width="1.5" stroke-linecap="butt"/>
<circle cx="133" cy="956.9" r="6.8" fill="#00c5f5" stroke="none" stroke-width="0"/>
<line x1="138.7" y1="948.9" x2="138.7" y2="964.9" stroke="#00c5f5" stroke-width="1.5" stroke-linecap="butt"/>
<line x1="134.7" y1="948.9" x2="142.7" y2="948.9" stroke="#00c5f5" stroke-width="1.5" stroke-linecap="butt"/>
<line x1="134.7" y1="964.9" x2="142.7" y2="964.9" stroke="#00c5f5" stroke-width="1.5" stroke-linecap="butt"/>
<circle cx="138.7" cy="956.9" r="6.8" fill="#00c5f5" stroke="none" stroke-width="0"/>
<line x1="152.9" y1="958.1" x2="152.9" y2="974.1" stroke="#00c5f5" stroke-width="1.5" stroke-linecap="butt"/>
<line x1="148.9" y1="958.1" x2="156.9" y2="958.1" stroke="#00c5f5" stroke-width="1.5" stroke-linecap="butt"/>
<line x1="148.9" y1="974.1" x2="156.9" y2="974.1" stroke="#00c5f5" stroke-width="1.5" stroke-linecap="butt"/>
<circle cx="152.9" cy="966.1" r="6.8" fill="#00c5f5" stroke="none" stroke-width="0"/>
<line x1="195.8" y1="955.1" x2="195.8" y2="971.1" stroke="#00c5f5" stroke-width="1.5" stroke-linecap="butt"/>
<line x1="191.8" y1="955.1" x2="199.8" y2="955.1" stroke="#00c5f5" stroke-width="1.5" stroke-linecap="butt"/>
<line x1="191.8" y1="971.1" x2="199.8" y2="971.1" stroke="#00c5f5" stroke-width="1.5" stroke-linecap="butt"/>
<circle cx="195.8" cy="963.1" r="6.8" fill="#00c5f5" stroke="none" stroke-width="0"/>
<line x1="302.9" y1="1041.8" x2="302.9" y2="1057.8" stroke="#00c5f5" stroke-width="1.5" stroke-linecap="butt"/>
<line x1="298.9" y1="1041.8" x2="306.9" y2="1041.8" stroke="#00c5f5" stroke-width="1.5" stroke-linecap="butt"/>
<line x1="298.9" y1="1057.8" x2="306.9" y2="1057.8" stroke="#00c5f5" stroke-width="1.5" stroke-linecap="butt"/>
<circle cx="302.9" cy="1049.8" r="6.8" fill="#00c5f5" stroke="none" stroke-width="0"/>
<line x1="354.3" y1="1099.7" x2="354.3" y2="1115.7" stroke="#00c5f5" stroke-width="1.5" stroke-linecap="butt"/>
<line x1="350.3" y1="1099.7" x2="358.3" y2="1099.7" stroke="#00c5f5" stroke-width="1.5" stroke-linecap="butt"/>
<line x1="350.3" y1="1115.7" x2="358.3" y2="1115.7" stroke="#00c5f5" stroke-width="1.5" stroke-linecap="butt"/>
<circle cx="354.3" cy="1107.7" r="6.8" fill="#00c5f5" stroke="none" stroke-width="0"/>
<line x1="370.3" y1="983.9" x2="370.3" y2="999.9" stroke="#00c5f5" stroke-width="1.5" stroke-linecap="butt"/>
<line x1="366.3" y1="983.9" x2="374.3" y2="983.9" stroke="#00c5f5" stroke-width="1.5" stroke-linecap="butt"/>
<line x1="366.3" y1="999.9" x2="374.3" y2="999.9" stroke="#00c5f5" stroke-width="1.5" stroke-linecap="butt"/>
<circle cx="370.3" cy="991.9" r="6.8" fill="#00c5f5" stroke="none" stroke-width="0"/>
<line x1="404.3" y1="981.4" x2="404.3" y2="997.4" stroke="#00c5f5" stroke-width="1.5" stroke-linecap="butt"/>
<line x1="400.3" y1="981.4" x2="408.3" y2="981.4" stroke="#00c5f5" stroke-width="1.5" stroke-linecap="butt"/>
<line x1="400.3" y1="997.4" x2="408.3" y2="997.4" stroke="#00c5f5" stroke-width="1.5" stroke-linecap="butt"/>
<circle cx="404.3" cy="989.4" r="6.8" fill="#00c5f5" stroke="none" stroke-width="0"/>
<line x1="416.7" y1="970.7" x2="416.7" y2="986.7" stroke="#00c5f5" stroke-width="1.5" stroke-linecap="butt"/>
<line x1="412.7" y1="970.7" x2="420.7" y2="970.7" stroke="#00c5f5" stroke-width="1.5" stroke-linecap="butt"/>
<line x1="412.7" y1="986.7" x2="420.7" y2="986.7" stroke="#00c5f5" stroke-width="1.5" stroke-linecap="butt"/>
<circle cx="416.7" cy="978.7" r="6.8" fill="#00c5f5" stroke="none" stroke-width="0"/>
<line x1="457.4" y1="985.6" x2="457.4" y2="1001.6" stroke="#00c5f5" stroke-width="1.5" stroke-linecap="butt"/>
<line x1="453.4" y1="985.6" x2="461.4" y2="985.6" stroke="#00c5f5" stroke-width="1.5" stroke-linecap="butt"/>
<line x1="453.4" y1="1001.6" x2="461.4" y2="1001.6" stroke="#00c5f5" stroke-width="1.5" stroke-linecap="butt"/>
<circle cx="457.4" cy="993.6" r="6.8" fill="#00c5f5" stroke="none" stroke-width="0"/>
<line x1="467.9" y1="987.4" x2="467.9" y2="1003.4" stroke="#00c5f5" stroke-width="1.5" stroke-linecap="butt"/>
<line x1="463.9" y1="987.4" x2="471.9" y2="987.4" stroke="#00c5f5" stroke-width="1.5" stroke-linecap="butt"/>
<line x1="463.9" y1="1003.4" x2="471.9" y2="1003.4" stroke="#00c5f5" stroke-width="1.5" stroke-linecap="butt"/>
<circle cx="467.9" cy="995.4" r="6.8" fill="#00c5f5" stroke="none" stroke-width="0"/>
<circle cx="161.6" cy="938.2" r="5.2" fill="none" stroke="#0000ff" stroke-width="1.6"/>
<circle cx="177.4" cy="941.2" r="5.2" fill="none" stroke="#0000ff" stroke-width="1.6"/>
<circle cx="184.9" cy="935.4" r="5.2" fill="none" stroke="#0000ff" stroke-width="1.6"/>
<circle cx="185.4" cy="945.4" r="5.2" fill="none" stroke="#0000ff" stroke-width="1.6"/>
<circle cx="177.4" cy="951.1" r="5.2" fill="none" stroke="#0000ff" stroke-width="1.6"/>
<circle cx="189.9" cy="947.9" r="5.2" fill="none" stroke="#0000ff" stroke-width="1.6"/>
<circle cx="195.8" cy="946.2" r="5.2" fill="none" stroke="#0000ff" stroke-width="1.6"/>
<circle cx="214.1" cy="956.1" r="5.2" fill="none" stroke="#0000ff" stroke-width="1.6"/>
<circle cx="214.8" cy="959.4" r="5.2" fill="none" stroke="#0000ff" stroke-width="1.6"/>
<circle cx="234" cy="951.1" r="5.2" fill="none" stroke="#0000ff" stroke-width="1.6"/>
<circle cx="233.3" cy="954.4" r="5.2" fill="none" stroke="#0000ff" stroke-width="1.6"/>
<circle cx="371.6" cy="956.5" r="5.2" fill="none" stroke="#0000ff" stroke-width="1.6"/>
<circle cx="350.3" cy="986.2" r="5.2" fill="none" stroke="#0000ff" stroke-width="1.6"/>
<circle cx="338.1" cy="1036.1" r="5.2" fill="none" stroke="#0000ff" stroke-width="1.6"/>
<circle cx="346.6" cy="1041.8" r="5.2" fill="none" stroke="#0000ff" stroke-width="1.6"/>
<circle cx="315.7" cy="1073.6" r="5.2" fill="none" stroke="#0000ff" stroke-width="1.6"/>
<circle cx="486.1" cy="970.4" r="5.2" fill="none" stroke="#0000ff" stroke-width="1.6"/>
<circle cx="509.1" cy="964.9" r="5.2" fill="none" stroke="#0000ff" stroke-width="1.6"/>
<circle cx="531.6" cy="961.9" r="5.2" fill="none" stroke="#0000ff" stroke-width="1.6"/>
<circle cx="536.1" cy="956.9" r="5.2" fill="none" stroke="#0000ff" stroke-width="1.6"/>
<circle cx="538.6" cy="953.7" r="5.2" fill="none" stroke="#0000ff" stroke-width="1.6"/>
<text x="486.8" y="1143.7" font-size="21.1" text-anchor="start" fill="#0000ff" font-weight="normal" >ODP 1263</text>
<text x="486.8" y="1171.3" font-size="21.1" text-anchor="start" fill="#00bfff" font-weight="normal" >ODP 1265</text>
<line x1="93.4" y1="1256.6" x2="93.4" y2="1583.2" stroke="#000" stroke-width="1.8" stroke-linecap="butt"/>
<line x1="83.8" y1="1256.6" x2="93.4" y2="1256.6" stroke="#000" stroke-width="1.1" stroke-linecap="butt"/>
<text x="81.2" y="1264" font-size="20.8" text-anchor="end" fill="#000" font-weight="normal" >4000</text>
<line x1="83.8" y1="1338.5" x2="93.4" y2="1338.5" stroke="#000" stroke-width="1.1" stroke-linecap="butt"/>
<text x="81.2" y="1345.9" font-size="20.8" text-anchor="end" fill="#000" font-weight="normal" >3000</text>
<line x1="83.8" y1="1420" x2="93.4" y2="1420" stroke="#000" stroke-width="1.1" stroke-linecap="butt"/>
<text x="81.2" y="1427.4" font-size="20.8" text-anchor="end" fill="#000" font-weight="normal" >2000</text>
<line x1="83.8" y1="1501.7" x2="93.4" y2="1501.7" stroke="#000" stroke-width="1.1" stroke-linecap="butt"/>
<text x="81.2" y="1509.1" font-size="20.8" text-anchor="end" fill="#000" font-weight="normal" >1000</text>
<line x1="83.8" y1="1583.2" x2="93.4" y2="1583.2" stroke="#000" stroke-width="1.1" stroke-linecap="butt"/>
<text x="81.2" y="1590.6" font-size="20.8" text-anchor="end" fill="#000" font-weight="normal" >0</text>
<text x="0" y="1255.6" font-size="26" text-anchor="start" fill="#000" font-weight="bold" >e</text>
<text transform="translate(24.5,1428.5) rotate(-90)" font-size="21" text-anchor="middle">reactive P AR [µg cm<tspan font-size="14.5" dy="-7">−2</tspan><tspan dy="7"> kyr</tspan><tspan font-size="14.5" dy="-7">−1</tspan><tspan dy="7">]</tspan></text>
<polyline points="180.9,1554.1 180.9,1514.7 187.4,1542.7 220.3,1539.7 226.2,1375.7 232.4,1496.3 246.1,1476.5 242.6,1499 258.9,1486.7 263,1462.8 269.2,1482.6 276.7,1458.7 284.9,1469.3 290.2,1504.1 297.2,1514.3 312.4,1539 316.9,1535.8 329,1416.6 345.4,1235.7 369.3,1518.3 521.1,1545.7" fill="none" stroke="#006400" stroke-width="3.6" stroke-linejoin="round" stroke-linecap="round" />
<circle cx="180.9" cy="1554.1" r="7.0" fill="#006400" stroke="none" stroke-width="0"/>
<circle cx="180.9" cy="1514.7" r="7.0" fill="#006400" stroke="none" stroke-width="0"/>
<circle cx="187.4" cy="1542.7" r="7.0" fill="#006400" stroke="none" stroke-width="0"/>
<circle cx="220.3" cy="1539.7" r="7.0" fill="#006400" stroke="none" stroke-width="0"/>
<circle cx="226.2" cy="1375.7" r="7.0" fill="#006400" stroke="none" stroke-width="0"/>
<circle cx="232.4" cy="1496.3" r="7.0" fill="#006400" stroke="none" stroke-width="0"/>
<circle cx="246.1" cy="1476.5" r="7.0" fill="#006400" stroke="none" stroke-width="0"/>
<circle cx="242.6" cy="1499" r="7.0" fill="#006400" stroke="none" stroke-width="0"/>
<circle cx="258.9" cy="1486.7" r="7.0" fill="#006400" stroke="none" stroke-width="0"/>
<circle cx="263" cy="1462.8" r="7.0" fill="#006400" stroke="none" stroke-width="0"/>
<circle cx="269.2" cy="1482.6" r="7.0" fill="#006400" stroke="none" stroke-width="0"/>
<circle cx="276.7" cy="1458.7" r="7.0" fill="#006400" stroke="none" stroke-width="0"/>
<circle cx="284.9" cy="1469.3" r="7.0" fill="#006400" stroke="none" stroke-width="0"/>
<circle cx="290.2" cy="1504.1" r="7.0" fill="#006400" stroke="none" stroke-width="0"/>
<circle cx="297.2" cy="1514.3" r="7.0" fill="#006400" stroke="none" stroke-width="0"/>
<circle cx="312.4" cy="1539" r="7.0" fill="#006400" stroke="none" stroke-width="0"/>
<circle cx="316.9" cy="1535.8" r="7.0" fill="#006400" stroke="none" stroke-width="0"/>
<circle cx="329" cy="1416.6" r="7.0" fill="#006400" stroke="none" stroke-width="0"/>
<circle cx="345.4" cy="1235.7" r="7.0" fill="#006400" stroke="none" stroke-width="0"/>
<circle cx="369.3" cy="1518.3" r="7.0" fill="#006400" stroke="none" stroke-width="0"/>
<circle cx="521.1" cy="1545.7" r="7.0" fill="#006400" stroke="none" stroke-width="0"/>
<polyline points="194.8,1563.4 220.3,1540.2 232.3,1535.9 252.8,1535.9 272.5,1536.6 294.9,1545 302.4,1544 319.4,1558.3 338.6,1497.1 352.8,1406.7 369.3,1517.1 387.8,1545 402.8,1549.5 416,1546.5 456.7,1545.7 466.8,1546.3 501.2,1551.8 511.9,1531.9 565.5,1558.6 574.1,1562.6" fill="none" stroke="#00cd00" stroke-width="3.6" stroke-linejoin="round" stroke-linecap="round" />
<circle cx="194.8" cy="1563.4" r="7.0" fill="#00cd00" stroke="none" stroke-width="0"/>
<circle cx="220.3" cy="1540.2" r="7.0" fill="#00cd00" stroke="none" stroke-width="0"/>
<circle cx="232.3" cy="1535.9" r="7.0" fill="#00cd00" stroke="none" stroke-width="0"/>
<circle cx="252.8" cy="1535.9" r="7.0" fill="#00cd00" stroke="none" stroke-width="0"/>
<circle cx="272.5" cy="1536.6" r="7.0" fill="#00cd00" stroke="none" stroke-width="0"/>
<circle cx="294.9" cy="1545" r="7.0" fill="#00cd00" stroke="none" stroke-width="0"/>
<circle cx="302.4" cy="1544" r="7.0" fill="#00cd00" stroke="none" stroke-width="0"/>
<circle cx="319.4" cy="1558.3" r="7.0" fill="#00cd00" stroke="none" stroke-width="0"/>
<circle cx="338.6" cy="1497.1" r="7.0" fill="#00cd00" stroke="none" stroke-width="0"/>
<circle cx="352.8" cy="1406.7" r="7.0" fill="#00cd00" stroke="none" stroke-width="0"/>
<circle cx="369.3" cy="1517.1" r="7.0" fill="#00cd00" stroke="none" stroke-width="0"/>
<circle cx="387.8" cy="1545" r="7.0" fill="#00cd00" stroke="none" stroke-width="0"/>
<circle cx="402.8" cy="1549.5" r="7.0" fill="#00cd00" stroke="none" stroke-width="0"/>
<circle cx="416" cy="1546.5" r="7.0" fill="#00cd00" stroke="none" stroke-width="0"/>
<circle cx="456.7" cy="1545.7" r="7.0" fill="#00cd00" stroke="none" stroke-width="0"/>
<circle cx="466.8" cy="1546.3" r="7.0" fill="#00cd00" stroke="none" stroke-width="0"/>
<circle cx="501.2" cy="1551.8" r="7.0" fill="#00cd00" stroke="none" stroke-width="0"/>
<circle cx="511.9" cy="1531.9" r="7.0" fill="#00cd00" stroke="none" stroke-width="0"/>
<circle cx="565.5" cy="1558.6" r="7.0" fill="#00cd00" stroke="none" stroke-width="0"/>
<circle cx="574.1" cy="1562.6" r="7.0" fill="#00cd00" stroke="none" stroke-width="0"/>
<text x="487.4" y="1451.6" font-size="21.1" text-anchor="start" fill="#006400" font-weight="normal" >ODP 1263</text>
<text x="487.4" y="1478.2" font-size="21.1" text-anchor="start" fill="#00cd00" font-weight="normal" >ODP 1265</text>
<line x1="604.7" y1="1530.6" x2="604.7" y2="1899.8" stroke="#000" stroke-width="1.8" stroke-linecap="butt"/>
<line x1="604.7" y1="1581.7" x2="614.7" y2="1581.7" stroke="#000" stroke-width="1.1" stroke-linecap="butt"/>
<text x="621.4" y="1589.9" font-size="21.5" text-anchor="start" fill="#000" font-weight="normal" >6</text>
<line x1="604.7" y1="1682.8" x2="614.7" y2="1682.8" stroke="#000" stroke-width="1.1" stroke-linecap="butt"/>
<text x="621.4" y="1691" font-size="21.5" text-anchor="start" fill="#000" font-weight="normal" >4</text>
<line x1="604.7" y1="1784" x2="614.7" y2="1784" stroke="#000" stroke-width="1.1" stroke-linecap="butt"/>
<text x="621.4" y="1792.2" font-size="21.5" text-anchor="start" fill="#000" font-weight="normal" >2</text>
<line x1="604.7" y1="1885.1" x2="614.7" y2="1885.1" stroke="#000" stroke-width="1.1" stroke-linecap="butt"/>
<text x="621.4" y="1893.3" font-size="21.5" text-anchor="start" fill="#000" font-weight="normal" >0</text>
<text x="667.5" y="1543.1" font-size="26" text-anchor="start" fill="#000" font-weight="bold" >f</text>
<text transform="translate(667,1720) rotate(90)" font-size="21" text-anchor="middle">barite AR [µg cm<tspan font-size="14.5" dy="-7">−2</tspan><tspan dy="7"> kyr</tspan><tspan font-size="14.5" dy="-7">−1</tspan><tspan dy="7">]</tspan></text>
<polyline points="148.4,1881.7 156.2,1759.9 173.9,1871.5 186.6,1881.7 211.1,1883.8 225.4,1881.7 231.9,1873.6 238.7,1861.3 245.8,1876.6 256.5,1823.5 262.2,1859.3 263.2,1872.5 266.7,1784.3 273.4,1811.2 274.9,1679.4 282.2,1700.5 286.3,1765.3 293.9,1757.1 312,1827.5 315.9,1809.5 324.1,1713 329.9,1586.9 342.8,1734.7 372,1877.7 387.4,1871.2 408.9,1879.1 427.3,1854.2 432,1879.9 454.9,1869.4 472,1877.3 492.5,1885.2 517.2,1880.4 536.3,1868.6" fill="none" stroke="#a52a2a" stroke-width="3.8" stroke-linejoin="round" stroke-linecap="round" />
<circle cx="148.4" cy="1881.7" r="7.1" fill="#a52a2a" stroke="none" stroke-width="0"/>
<circle cx="156.2" cy="1759.9" r="7.1" fill="#a52a2a" stroke="none" stroke-width="0"/>
<circle cx="173.9" cy="1871.5" r="7.1" fill="#a52a2a" stroke="none" stroke-width="0"/>
<circle cx="186.6" cy="1881.7" r="7.1" fill="#a52a2a" stroke="none" stroke-width="0"/>
<circle cx="211.1" cy="1883.8" r="7.1" fill="#a52a2a" stroke="none" stroke-width="0"/>
<circle cx="225.4" cy="1881.7" r="7.1" fill="#a52a2a" stroke="none" stroke-width="0"/>
<circle cx="231.9" cy="1873.6" r="7.1" fill="#a52a2a" stroke="none" stroke-width="0"/>
<circle cx="238.7" cy="1861.3" r="7.1" fill="#a52a2a" stroke="none" stroke-width="0"/>
<circle cx="245.8" cy="1876.6" r="7.1" fill="#a52a2a" stroke="none" stroke-width="0"/>
<circle cx="256.5" cy="1823.5" r="7.1" fill="#a52a2a" stroke="none" stroke-width="0"/>
<circle cx="262.2" cy="1859.3" r="7.1" fill="#a52a2a" stroke="none" stroke-width="0"/>
<circle cx="263.2" cy="1872.5" r="7.1" fill="#a52a2a" stroke="none" stroke-width="0"/>
<circle cx="266.7" cy="1784.3" r="7.1" fill="#a52a2a" stroke="none" stroke-width="0"/>
<circle cx="273.4" cy="1811.2" r="7.1" fill="#a52a2a" stroke="none" stroke-width="0"/>
<circle cx="274.9" cy="1679.4" r="7.1" fill="#a52a2a" stroke="none" stroke-width="0"/>
<circle cx="282.2" cy="1700.5" r="7.1" fill="#a52a2a" stroke="none" stroke-width="0"/>
<circle cx="286.3" cy="1765.3" r="7.1" fill="#a52a2a" stroke="none" stroke-width="0"/>
<circle cx="293.9" cy="1757.1" r="7.1" fill="#a52a2a" stroke="none" stroke-width="0"/>
<circle cx="312" cy="1827.5" r="7.1" fill="#a52a2a" stroke="none" stroke-width="0"/>
<circle cx="315.9" cy="1809.5" r="7.1" fill="#a52a2a" stroke="none" stroke-width="0"/>
<circle cx="324.1" cy="1713" r="7.1" fill="#a52a2a" stroke="none" stroke-width="0"/>
<circle cx="329.9" cy="1586.9" r="7.1" fill="#a52a2a" stroke="none" stroke-width="0"/>
<circle cx="342.8" cy="1734.7" r="7.1" fill="#a52a2a" stroke="none" stroke-width="0"/>
<circle cx="372" cy="1877.7" r="7.1" fill="#a52a2a" stroke="none" stroke-width="0"/>
<circle cx="387.4" cy="1871.2" r="7.1" fill="#a52a2a" stroke="none" stroke-width="0"/>
<circle cx="408.9" cy="1879.1" r="7.1" fill="#a52a2a" stroke="none" stroke-width="0"/>
<circle cx="427.3" cy="1854.2" r="7.1" fill="#a52a2a" stroke="none" stroke-width="0"/>
<circle cx="432" cy="1879.9" r="7.1" fill="#a52a2a" stroke="none" stroke-width="0"/>
<circle cx="454.9" cy="1869.4" r="7.1" fill="#a52a2a" stroke="none" stroke-width="0"/>
<circle cx="472" cy="1877.3" r="7.1" fill="#a52a2a" stroke="none" stroke-width="0"/>
<circle cx="492.5" cy="1885.2" r="7.1" fill="#a52a2a" stroke="none" stroke-width="0"/>
<circle cx="517.2" cy="1880.4" r="7.1" fill="#a52a2a" stroke="none" stroke-width="0"/>
<circle cx="536.3" cy="1868.6" r="7.1" fill="#a52a2a" stroke="none" stroke-width="0"/>
<polyline points="130.3,1845 136.3,1767.5 143,1803.6 151.2,1859.3 159.6,1875.2 187.6,1878.3 211.5,1884.2 231.5,1847.6 246.9,1883.8 252,1871.5 271.4,1829.6 290.8,1811.6 293.9,1846 319,1857.1 329.9,1758.5 338.1,1721.9 339.4,1603.5 342.8,1637 348.6,1637 349.3,1813.4 351.1,1551.4 356.3,1760.9 362.6,1776.1 368.5,1789.4 370.3,1839.1 377.8,1880 390,1872 397.9,1882.5 410.2,1879.1 426,1875.7 435.7,1879.9 460.9,1871.2" fill="none" stroke="#ffa500" stroke-width="3.8" stroke-linejoin="round" stroke-linecap="round" />
<circle cx="130.3" cy="1845" r="7.1" fill="#ffa500" stroke="none" stroke-width="0"/>
<circle cx="136.3" cy="1767.5" r="7.1" fill="#ffa500" stroke="none" stroke-width="0"/>
<circle cx="143" cy="1803.6" r="7.1" fill="#ffa500" stroke="none" stroke-width="0"/>
<circle cx="151.2" cy="1859.3" r="7.1" fill="#ffa500" stroke="none" stroke-width="0"/>
<circle cx="159.6" cy="1875.2" r="7.1" fill="#ffa500" stroke="none" stroke-width="0"/>
<circle cx="187.6" cy="1878.3" r="7.1" fill="#ffa500" stroke="none" stroke-width="0"/>
<circle cx="211.5" cy="1884.2" r="7.1" fill="#ffa500" stroke="none" stroke-width="0"/>
<circle cx="231.5" cy="1847.6" r="7.1" fill="#ffa500" stroke="none" stroke-width="0"/>
<circle cx="246.9" cy="1883.8" r="7.1" fill="#ffa500" stroke="none" stroke-width="0"/>
<circle cx="252" cy="1871.5" r="7.1" fill="#ffa500" stroke="none" stroke-width="0"/>
<circle cx="271.4" cy="1829.6" r="7.1" fill="#ffa500" stroke="none" stroke-width="0"/>
<circle cx="290.8" cy="1811.6" r="7.1" fill="#ffa500" stroke="none" stroke-width="0"/>
<circle cx="293.9" cy="1846" r="7.1" fill="#ffa500" stroke="none" stroke-width="0"/>
<circle cx="319" cy="1857.1" r="7.1" fill="#ffa500" stroke="none" stroke-width="0"/>
<circle cx="329.9" cy="1758.5" r="7.1" fill="#ffa500" stroke="none" stroke-width="0"/>
<circle cx="338.1" cy="1721.9" r="7.1" fill="#ffa500" stroke="none" stroke-width="0"/>
<circle cx="339.4" cy="1603.5" r="7.1" fill="#ffa500" stroke="none" stroke-width="0"/>
<circle cx="349.3" cy="1813.4" r="7.1" fill="#ffa500" stroke="none" stroke-width="0"/>
<circle cx="351.1" cy="1551.4" r="7.1" fill="#ffa500" stroke="none" stroke-width="0"/>
<circle cx="356.3" cy="1760.9" r="7.1" fill="#ffa500" stroke="none" stroke-width="0"/>
<circle cx="362.6" cy="1776.1" r="7.1" fill="#ffa500" stroke="none" stroke-width="0"/>
<circle cx="368.5" cy="1789.4" r="7.1" fill="#ffa500" stroke="none" stroke-width="0"/>
<circle cx="370.3" cy="1839.1" r="7.1" fill="#ffa500" stroke="none" stroke-width="0"/>
<circle cx="377.8" cy="1880" r="7.1" fill="#ffa500" stroke="none" stroke-width="0"/>
<circle cx="390" cy="1872" r="7.1" fill="#ffa500" stroke="none" stroke-width="0"/>
<circle cx="397.9" cy="1882.5" r="7.1" fill="#ffa500" stroke="none" stroke-width="0"/>
<circle cx="410.2" cy="1879.1" r="7.1" fill="#ffa500" stroke="none" stroke-width="0"/>
<circle cx="426" cy="1875.7" r="7.1" fill="#ffa500" stroke="none" stroke-width="0"/>
<circle cx="435.7" cy="1879.9" r="7.1" fill="#ffa500" stroke="none" stroke-width="0"/>
<circle cx="460.9" cy="1871.2" r="7.1" fill="#ffa500" stroke="none" stroke-width="0"/>
<text x="487" y="1779.5" font-size="21.1" text-anchor="start" fill="#8b1a1a" font-weight="normal" >ODP 1263</text>
<text x="487" y="1812.7" font-size="21.1" text-anchor="start" fill="#ff6a00" font-weight="normal" >ODP 1265</text>
<line x1="92.5" y1="1899.8" x2="605.6" y2="1899.8" stroke="#000" stroke-width="1.8" stroke-linecap="butt"/>
<line x1="154.1" y1="1899.8" x2="154.1" y2="1908.8" stroke="#000" stroke-width="1.1" stroke-linecap="butt"/>
<text x="156.3" y="1934.2" font-size="20.6" text-anchor="middle" fill="#000" font-weight="normal" >−50</text>
<line x1="224.7" y1="1899.8" x2="224.7" y2="1908.8" stroke="#000" stroke-width="1.1" stroke-linecap="butt"/>
<text x="224.7" y="1934.2" font-size="20.6" text-anchor="middle" fill="#000" font-weight="normal" >0</text>
<line x1="295.3" y1="1899.8" x2="295.3" y2="1908.8" stroke="#000" stroke-width="1.1" stroke-linecap="butt"/>
<text x="297.5" y="1934.2" font-size="20.6" text-anchor="middle" fill="#000" font-weight="normal" >50</text>
<line x1="365.9" y1="1899.8" x2="365.9" y2="1908.8" stroke="#000" stroke-width="1.1" stroke-linecap="butt"/>
<text x="368.1" y="1934.2" font-size="20.6" text-anchor="middle" fill="#000" font-weight="normal" >100</text>
<line x1="436.6" y1="1899.8" x2="436.6" y2="1908.8" stroke="#000" stroke-width="1.1" stroke-linecap="butt"/>
<text x="438.8" y="1934.2" font-size="20.6" text-anchor="middle" fill="#000" font-weight="normal" >150</text>
<line x1="507.2" y1="1899.8" x2="507.2" y2="1908.8" stroke="#000" stroke-width="1.1" stroke-linecap="butt"/>
<text x="509.4" y="1934.2" font-size="20.6" text-anchor="middle" fill="#000" font-weight="normal" >200</text>
<line x1="577.8" y1="1899.8" x2="577.8" y2="1908.8" stroke="#000" stroke-width="1.1" stroke-linecap="butt"/>
<text x="580" y="1934.2" font-size="20.6" text-anchor="middle" fill="#000" font-weight="normal" >250</text>
<text x="337.5" y="1966.6" font-size="21" text-anchor="middle" fill="#000" font-weight="normal" >time [kyr]</text>
</svg>
</body></html>
